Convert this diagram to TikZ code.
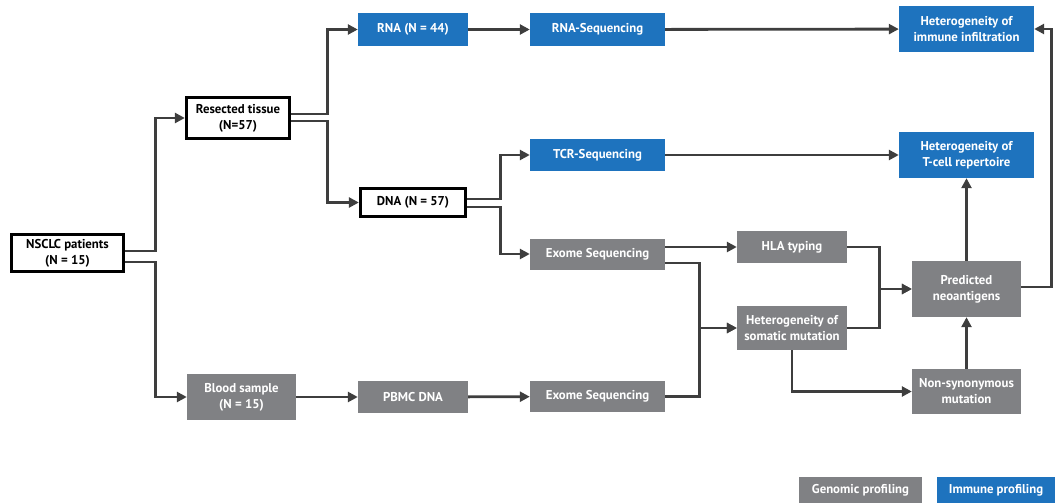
\documentclass[tikz,border=0pt]{standalone}
\usepackage{fontspec}
\setmainfont{PT Sans}[BoldFont={PT Sans Bold}]
\usetikzlibrary{arrows.meta}

\definecolor{immuneblue}{RGB}{30,115,190}
\definecolor{genomegray}{RGB}{128,129,132}
\definecolor{linegray}{RGB}{62,62,62}

\begin{document}
\begin{tikzpicture}[x=1pt,y=-1pt,
  box/.style={inner sep=0pt, align=center, font=\bfseries\fontsize{12.8}{16}\selectfont},
  samplebox/.style={box, draw=black, line width=2.8pt, text=black},
  immunebox/.style={box, fill=immuneblue, text=white},
  genomebox/.style={box, fill=genomegray, text=white},
  link/.style={draw=linegray, line width=2.8pt},
  arr/.style={link, -{Triangle[length=10pt,width=10pt]}}]
  % Fix the page size
  \useasboundingbox (0,0) rectangle (1055,503);

  % Samples
  \node[samplebox, minimum width=112.5, minimum height=37.5] (nsclc) at (67.5,253) {NSCLC patients\\(N = 15)};
  \node[samplebox, minimum width=103.5, minimum height=41.5] (resected) at (238,118) {Resected tissue\\(N=57)};
  \node[samplebox, minimum width=105.5, minimum height=28.5] (dna) at (413,202.5) {DNA (N = 57)};
  \node[genomebox, minimum width=109, minimum height=46] (blood) at (241.5,397) {Blood sample\\(N = 15)};
  \node[genomebox, minimum width=110, minimum height=32] (pbmc) at (413,397) {PBMC DNA};

  % Immune profiling
  \node[immunebox, minimum width=110, minimum height=33] (rna) at (413,29.5) {RNA (N = 44)};
  \node[immunebox, minimum width=135, minimum height=33] (rnaseq) at (597.5,29.5) {RNA-Sequencing};
  \node[immunebox, minimum width=135, minimum height=46] (infiltration) at (966.5,29) {Heterogeneity of\\immune infiltration};
  \node[immunebox, minimum width=135, minimum height=32] (tcrseq) at (597.5,155) {TCR-Sequencing};
  \node[immunebox, minimum width=135, minimum height=46] (repertoire) at (966.5,155) {Heterogeneity of\\T-cell repertoire};

  % Genomic profiling
  \node[genomebox, minimum width=135, minimum height=31] (exome) at (597.5,254) {Exome Sequencing};
  \node[genomebox, minimum width=135, minimum height=31] (pbmcexome) at (597.5,396.5) {Exome Sequencing};
  \node[genomebox, minimum width=110, minimum height=32] (hla) at (792,247) {HLA typing};
  \node[genomebox, minimum width=110, minimum height=44] (somatic) at (792,328) {Heterogeneity of\\somatic mutation};
  \node[genomebox, minimum width=109, minimum height=56] (neoantigen) at (966.5,289) {Predicted\\neoantigens};
  \node[genomebox, minimum width=109, minimum height=45] (nonsyn) at (966.5,391.5) {Non-synonymous\\mutation};

  % Legend
  \node[genomebox, minimum width=123, minimum height=26] (leggenomic) at (860.5,490) {Genomic profiling};
  \node[immunebox, minimum width=118, minimum height=26] (legimmune) at (996,490) {Immune profiling};

  % Connectors
  \draw[arr] ([yshift=2pt]nsclc.east) -- ++(30,0) |- (resected.west);
  \draw[arr] ([yshift=-9pt]nsclc.east) -- ++(30,0) |- (blood.west);
  \draw[arr] ([yshift=4pt]resected.east) -- ++(36,0) |- (rna.west);
  \draw[arr] ([yshift=-3pt]resected.east) -- ++(36,0) |- (dna.west);
  \draw[arr] (rna) -- (rnaseq);
  \draw[arr] (rnaseq) -- (infiltration);
  \draw[arr] ([yshift=3.5pt]dna.east) -- ++(33,0) |- (tcrseq.west);
  \draw[arr] ([yshift=-4.5pt]dna.east) -- ++(33,0) |- (exome.west);
  \draw[arr] (tcrseq) -- (repertoire);
  \draw[arr] (blood) -- (pbmc);
  \draw[arr] (pbmc) -- (pbmcexome);
  \draw[arr] ([yshift=7pt]exome.east) -- (hla.west);
  \draw[arr] ([yshift=-9pt]exome.east) -- ++(34,0) |- (somatic.west);
  \draw[arr] (pbmcexome.east) -- ++(34,0) |- (somatic.west);
  \draw[arr] (hla.east) -- ++(32,0) |- (neoantigen.west);
  \draw[arr] (somatic.east) -- ++(32,0) |- (neoantigen.west);
  \draw[arr] (somatic.south) |- (nonsyn.west);
  \draw[arr] (nonsyn) -- (neoantigen);
  \draw[arr] (neoantigen) -- (repertoire);
  \draw[arr] ([yshift=2pt]neoantigen.east) -- ++(30,0) |- (infiltration.east);
\end{tikzpicture}
\end{document}
